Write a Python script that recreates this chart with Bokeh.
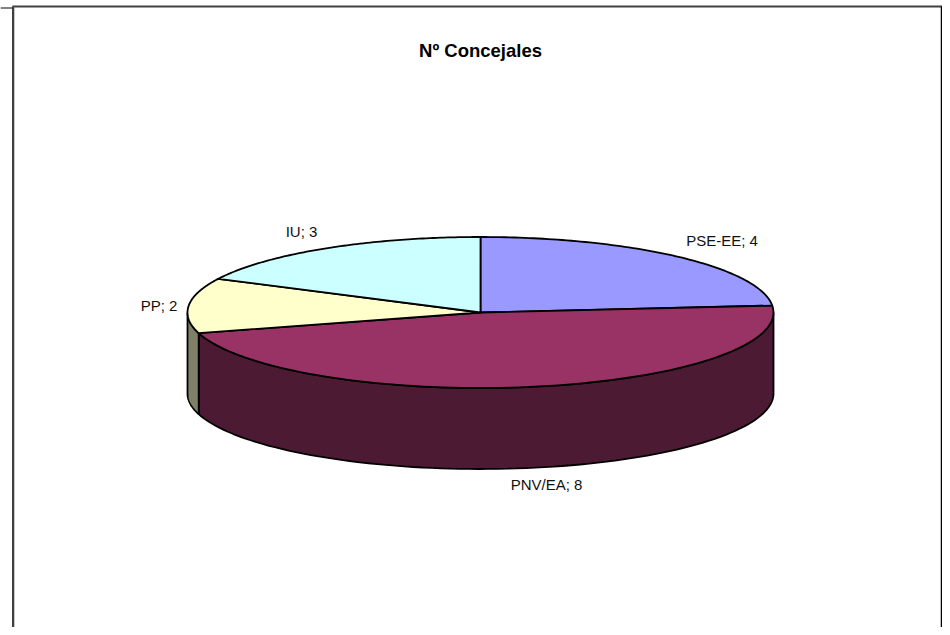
import numpy as np
from bokeh.plotting import figure
from bokeh.models import Range1d
from bokeh.core.properties import value
from bokeh.embed import file_html
from bokeh.resources import INLINE

categories = ["PSE-EE", "PNV/EA", "PP", "IU"]
concejales = [4, 8, 2, 3]
top_colors = ["#9999FF", "#993366", "#FFFFCC", "#CCFFFF"]
side_colors = ["#4D4D80", "#4D1A33", "#808066", "#668080"]
title_text = "Nº Concejales"

W, H = 942, 627
CX, CY, RX, RY, DEPTH = 480, 312, 293, 75.5, 81

p = figure(width=W, height=H, x_range=Range1d(0, W), y_range=Range1d(H, 0),
           output_backend="svg", toolbar_location=None, min_border=0,
           background_fill_color="white", border_fill_color="white",
           outline_line_color=None)
p.xaxis.visible = False
p.yaxis.visible = False
p.grid.visible = False


def arc(a0, a1, dy=0.0):
    t = np.radians(np.linspace(a0, a1, 90))
    return CX + RX * np.sin(t), CY - RY * np.cos(t) + dy


fractions = np.array(concejales) / sum(concejales)
edges = np.concatenate([[0], np.cumsum(fractions) * 360])

# side walls (only the front half of the ellipse is visible)
for i in range(len(concejales)):
    a0, a1 = max(edges[i], 90), min(edges[i + 1], 270)
    if a1 <= a0:
        continue
    x0, y0 = arc(a0, a1)
    x1, y1 = arc(a0, a1, DEPTH)
    p.patch(np.concatenate([x0, x1[::-1]]), np.concatenate([y0, y1[::-1]]),
            fill_color=side_colors[i], line_color="black", line_width=1.8)

# top faces
for i in range(len(concejales)):
    x0, y0 = arc(edges[i], edges[i + 1])
    p.patch(np.concatenate([[CX], x0]), np.concatenate([[CY], y0]),
            fill_color=top_colors[i], line_color="black", line_width=1.8,
            line_join="round")

labels = [f"{c}; {v}" for c, v in zip(categories, concejales)]
label_x = [721.5, 546, 158.5, 301]
label_y = [240, 484, 305, 231]
p.text(label_x, label_y, text=labels, text_font=value("Liberation Sans"),
       text_font_size="15px", text_color="#111111", text_baseline="middle", text_align="center")

p.text([480], [50], text=[title_text], text_font=value("Liberation Sans"),
       text_font_size="18.5px", text_font_style="bold", text_color="black",
       text_align="center", text_baseline="middle")

# frame of the original sheet
p.line([12.5, 12.5], [6, H], line_color="black", line_width=1.5)
p.line([14, 14], [7, H], line_color="#c8c8c8", line_width=1)
p.line([12, 941.5], [6, 6], line_color="#404040", line_width=2)
p.line([0, 12], [7.5, 7.5], line_color="black", line_width=1)
p.line([941, 941], [6, H], line_color="black", line_width=1.5)

open("out.html", "w").write(file_html(p, INLINE))
